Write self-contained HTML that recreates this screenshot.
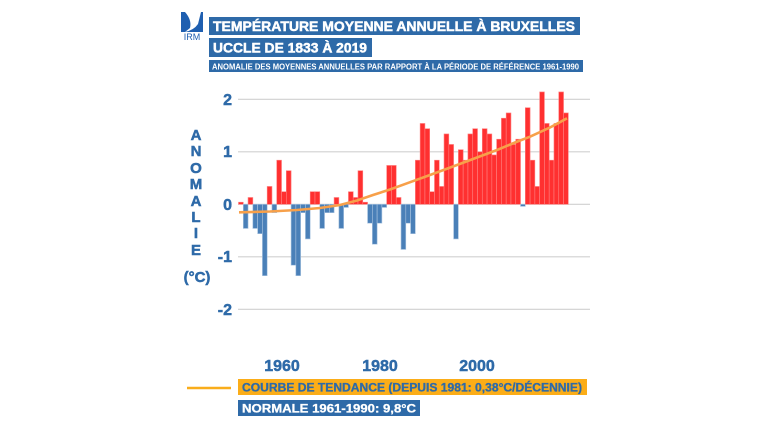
<!DOCTYPE html>
<html><head><meta charset="utf-8"><style>
body{margin:0;background:#fff;}
svg{display:block;font-family:"Liberation Sans",sans-serif;font-weight:bold;}
.th{stroke-width:0.5;}
</style></head><body>
<svg width="770" height="433" viewBox="0 0 770 433" xmlns="http://www.w3.org/2000/svg">
<rect width="770" height="433" fill="#fff"/>
<path d="M181,12 L185,12 Q192,20 190,28 L185,32 Q194,30 198,24 L201,12 L203,12 L203,32 L181,32 Z" fill="#1f5fb0"/>
<text x="192" y="40" font-size="9" fill="#1f5fb0" text-anchor="middle" font-weight="normal">IRM</text>
<rect x="209" y="17" width="371" height="18" fill="#2e6aa8"/>
<text x="213" y="31" font-size="14" fill="#fff" stroke="#fff" class="th" textLength="362" lengthAdjust="spacingAndGlyphs">TEMPÉRATURE MOYENNE ANNUELLE À BRUXELLES</text>
<rect x="209" y="38" width="163" height="19" fill="#2e6aa8"/>
<text x="213" y="52.5" font-size="14" fill="#fff" stroke="#fff" class="th" textLength="154" lengthAdjust="spacingAndGlyphs">UCCLE DE 1833 À 2019</text>
<rect x="209" y="60" width="374" height="12" fill="#2e6aa8"/>
<text x="212" y="69.5" font-size="8" fill="#fff" textLength="367" lengthAdjust="spacingAndGlyphs">ANOMALIE DES MOYENNES ANNUELLES PAR RAPPORT À LA PÉRIODE DE RÉFÉRENCE 1961-1990</text>
<g stroke="#d0d0d0" stroke-width="1.2">
<line x1="238" x2="590" y1="99.3" y2="99.3"/>
<line x1="238" x2="590" y1="151.8" y2="151.8"/>
<line x1="238" x2="590" y1="204.3" y2="204.3"/>
<line x1="238" x2="590" y1="256.8" y2="256.8"/>
<line x1="238" x2="590" y1="309.3" y2="309.3"/>
</g>
<g font-size="16" fill="#2e6aa8" stroke="#2e6aa8" class="th" text-anchor="end">
<text x="232" y="105">2</text><text x="232" y="157">1</text><text x="232" y="210">0</text>
<text x="232" y="262">-1</text><text x="232" y="315">-2</text>
</g>
<g font-size="15" fill="#2e6aa8" stroke="#2e6aa8" class="th" text-anchor="middle">
<text x="196" y="140">A</text><text x="196" y="156">N</text><text x="196" y="173">O</text>
<text x="196" y="189">M</text><text x="196" y="206">A</text><text x="196" y="222">L</text>
<text x="196" y="238">I</text><text x="196" y="255">E</text>
<text x="197" y="282">(°C)</text>
</g>
<g id="bars" stroke-width="0.6"></g>
<polyline fill="none" stroke="#f7a04a" stroke-width="2.6" points="239,212.3 270,211.5 297,210 320,208 340,205 357,200.5 373,195 390,189.5 407,183.3 430,175 457,165 477,157.5 497,150 515,142.5 530,136.7 550,127.5 567,118.3"/>
<g font-size="16" fill="#2e6aa8" stroke="#2e6aa8" class="th" text-anchor="middle">
<text x="282" y="371">1960</text><text x="380" y="371">1980</text><text x="477" y="371">2000</text>
</g>
<line x1="187" x2="231" y1="388" y2="388" stroke="#f9ad1b" stroke-width="2.5"/>
<rect x="238" y="379" width="349" height="16" fill="#fbad18"/>
<text x="242" y="391.5" font-size="11.5" fill="#2e6aa8" stroke="#2e6aa8" stroke-width="0.3" textLength="340" lengthAdjust="spacingAndGlyphs">COURBE DE TENDANCE (DEPUIS 1981: 0,38°C/DÉCENNIE)</text>
<rect x="238" y="400" width="182" height="16" fill="#2e6aa8"/>
<text x="242" y="412.5" font-size="12" fill="#fff" stroke="#fff" stroke-width="0.3" textLength="174" lengthAdjust="spacingAndGlyphs">NORMALE 1961-1990: 9,8°C</text>
</svg>
<script>
var v=[.04,-.46,.13,-.46,-.56,-1.36,.34,-.16,.84,.24,.64,-1.16,-1.36,-.16,-.66,.24,.24,-.46,-.16,-.16,.13,-.46,-.06,.24,.13,.64,.04,-.36,-.76,-.36,-.06,.74,.74,.13,-.86,-.36,-.56,
.84,1.54,1.44,.24,.84,.34,1.34,1.14,-.66,1.04,.84,1.34,1.44,1.0,1.44,1.34,.94,1.24,1.64,1.74,1.14,1.24,-.04,1.84,.84,.34,2.14,1.54,.84,1.54,2.14,1.74];
var g=document.getElementById('bars'),s='',w=4.78,z=204.3,k=52.5;
for(var i=0;i<v.length;i++){var x=238.5+i*w,h=Math.abs(v[i])*k,y=v[i]>0?z-h:z;
var c=v[i]>0?'#ff3030':'#4a80b8',b=v[i]>0?'#ff8080':'#a9c4e0';
s+='<rect x="'+x.toFixed(2)+'" y="'+y.toFixed(2)+'" width="'+w+'" height="'+h.toFixed(2)+'" fill="'+c+'" stroke="'+b+'"/>';}
g.innerHTML=s;
</script>
</body></html>
